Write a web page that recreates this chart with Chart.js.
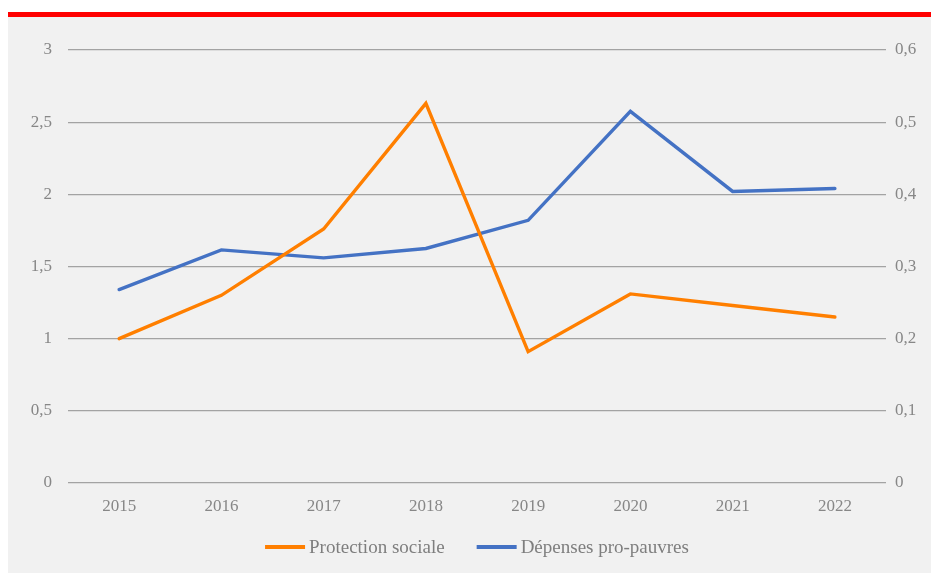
<!DOCTYPE html>
<html><head><meta charset="utf-8">
<script src="https://cdn.jsdelivr.net/npm/chart.js@4/dist/chart.umd.min.js"></script>
<style>
html,body{margin:0;padding:0;background:#fff;width:931px;height:573px;overflow:hidden}
#red{position:absolute;left:8px;top:12px;width:923px;height:5px;background:#ff0000}
#panel{position:absolute;left:8px;top:17px;width:923px;height:556px;background:#f1f1f1}
canvas{display:block}
</style></head><body>
<div id="red"></div>
<div id="panel"><canvas id="c" width="923" height="556"></canvas></div>
<script>
const years = ['2015','2016','2017','2018','2019','2020','2021','2022'];
const protectionSociale = [1.0, 1.30, 1.76, 2.63, 0.91, 1.31, 1.23, 1.15];
const depensesProPauvres = [0.268, 0.323, 0.312, 0.325, 0.364, 0.515, 0.404, 0.408];
const leftTicks = [0, 0.5, 1, 1.5, 2, 2.5, 3];
const rightTicks = [0, 0.1, 0.2, 0.3, 0.4, 0.5, 0.6];

const fr = v => String(v).replace('.', ',');
const tickFont = {family: "'Liberation Serif', serif", size: 17};
const tickColor = '#878787';
const legendFont = "19px 'Liberation Serif', serif";

// Legend drawn from the datasets (line swatch + label), centred under the plot area
const bottomLegend = {
  id: 'bottomLegend',
  afterDraw(chart) {
    const ctx = chart.ctx, ca = chart.chartArea;
    const sw = 40, gapText = 4, gapItem = 32, y = 531;
    ctx.save();
    ctx.font = legendFont;
    const items = chart.data.datasets.map(ds => ({ds, w: ctx.measureText(ds.label).width}));
    const total = items.reduce((s, it) => s + sw + gapText + it.w, 0) + gapItem * (items.length - 1);
    let x = (ca.left + ca.right) / 2 - total / 2;
    ctx.textBaseline = 'middle';
    ctx.textAlign = 'left';
    items.forEach(it => {
      ctx.fillStyle = it.ds.borderColor;
      ctx.fillRect(x, y - 3, sw, 4);
      x += sw + gapText;
      ctx.fillStyle = '#7e7e7e';
      ctx.fillText(it.ds.label, x, y);
      x += it.w + gapItem;
    });
    ctx.restore();
  }
};

new Chart(document.getElementById('c'), {
  type: 'line',
  data: {
    labels: years,
    datasets: [
      {label: 'Protection sociale', data: protectionSociale, yAxisID: 'y',
       borderColor: '#ff7f00', backgroundColor: '#ff7f00', borderWidth: 3.4,
       pointRadius: 0, tension: 0, borderCapStyle: 'round'},
      {label: 'Dépenses pro-pauvres', data: depensesProPauvres, yAxisID: 'y1',
       borderColor: '#4472c4', backgroundColor: '#4472c4', borderWidth: 3.4,
       pointRadius: 0, tension: 0, borderCapStyle: 'round'}
    ]
  },
  plugins: [bottomLegend],
  options: {
    responsive: false,
    animation: false,
    layout: {padding: {top: 33, bottom: 51, left: 0, right: 0}},
    plugins: {
      tooltip: {enabled: false},
      legend: {display: false}
    },
    scales: {
      x: {
        offset: true,
        grid: {display: false, drawTicks: false},
        border: {display: false},
        ticks: {font: tickFont, color: tickColor, padding: 13, maxRotation: 0},
        afterFit(s) { s.height = 39; }
      },
      y: {
        position: 'left', min: 0, max: 3,
        afterBuildTicks(s) { s.ticks = leftTicks.map(v => ({value: v})); },
        grid: {color: '#a3a3a3', lineWidth: 1.2, drawTicks: false},
        border: {display: false},
        ticks: {font: tickFont, color: tickColor, padding: 16, callback: v => fr(v)},
        afterFit(s) { s.width = 60; }
      },
      y1: {
        position: 'right', min: 0, max: 0.6,
        afterBuildTicks(s) { s.ticks = rightTicks.map(v => ({value: v})); },
        grid: {display: false, drawTicks: false},
        border: {display: false},
        ticks: {font: tickFont, color: tickColor, padding: 9, callback: v => fr(+v.toFixed(1))},
        afterFit(s) { s.width = 45; }
      }
    }
  }
});
</script>
</body></html>
